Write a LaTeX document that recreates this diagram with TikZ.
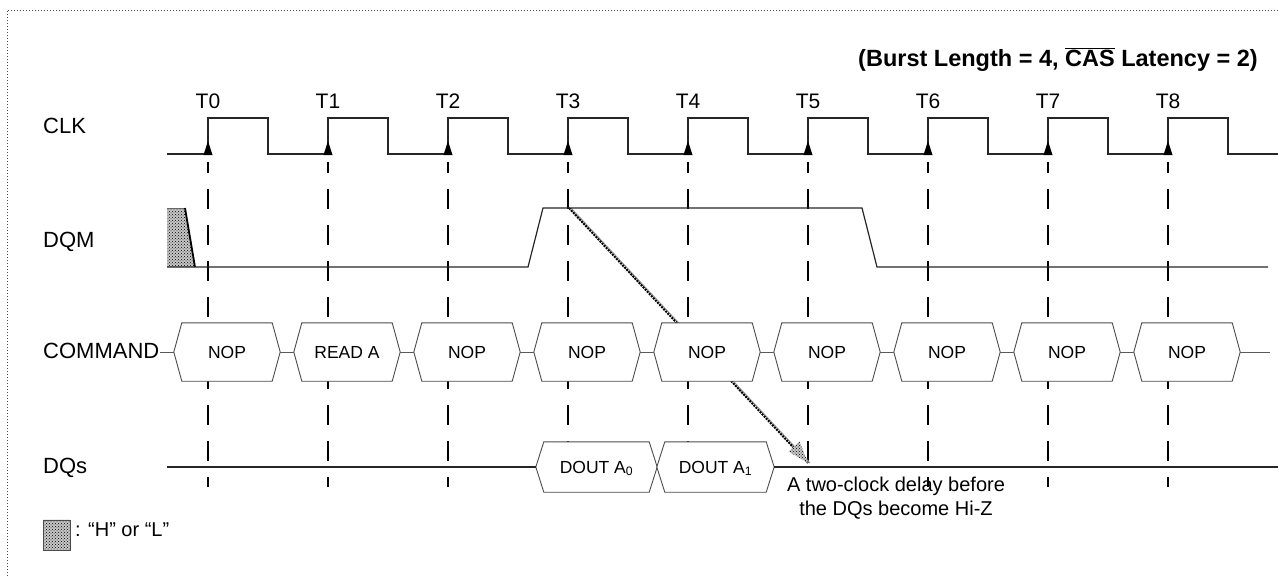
\documentclass[tikz,border=0pt]{standalone}
\usepackage{fontspec}
\setmainfont{Liberation Sans}
\usetikzlibrary{patterns,calc}
\pgfdeclarelayer{grid}
\pgfdeclarelayer{boxes}
\pgfsetlayers{grid,boxes,main}
\begin{document}
\begin{tikzpicture}[x=1pt,y=-1pt,
  sig/.style={line width=1.2pt,black!85},
  bus/.style={line width=0.9pt,black!65},
  hex/.style={draw=black!70,line width=0.9pt,fill=white},
  tick/.style={line width=1.5pt,dash pattern=on 20pt off 16pt,dash phase=9pt},
  lab/.style={font=\fontsize{22}{26}\selectfont,anchor=base west,inner sep=0pt},
  tlab/.style={font=\fontsize{21}{25}\selectfont,anchor=base,inner sep=0pt},
  cmdbox/.style={minimum width=106pt,minimum height=58pt,inner sep=0pt,font=\fontsize{17.5}{20}\selectfont},
  doutbox/.style={minimum height=50pt,inner sep=0pt,text height=12.5pt,text depth=0pt,font=\fontsize{17.5}{20}\selectfont},
  hatchbg/.style={fill=black!22},
  hatch/.style={pattern=crosshatch dots,pattern color=black}
]
\useasboundingbox (0,0) rectangle (1278,576);

% frame
\draw[dotted,line width=1pt,black!70] (7,576) -- (7,10) -- (1278,10);

% title
\node[font=\fontsize{23.5}{28}\selectfont\bfseries,anchor=base east,inner sep=0pt] (title) at (1258,66)
  {(Burst Length = 4, $\overline{\hbox{CAS}}$ Latency = 2)};

% signal labels
\node[lab] (clk) at (43,133) {CLK};
\node[lab] (dqm) at (43,247) {DQM};
\node[lab] (command) at (43,358) {COMMAND};
\node[lab] (dqs) at (43,473) {DQs};

% clock
\draw[sig] (167,154) \foreach \i in {0,...,8}{ -- ({208+120*\i},154) -- ({208+120*\i},118) -- ({268+120*\i},118) -- ({268+120*\i},154)} -- (1278,154);
\foreach \i in {0,...,8}{
  \fill ({208+120*\i},141) -- ++(-4.5,14) -- ++(9,0) -- cycle;
  \node[tlab] (T\i) at ({208+120*\i},108) {T\i};
}

% dashed clock-edge guides
\begin{pgfonlayer}{grid}
\foreach \i in {0,...,8}{
  \pgfmathsetmacro\ye{\i==5 ? 467 : 487}
  \draw[tick] ({208+120*\i},162) -- ({208+120*\i},\ye);
}
\end{pgfonlayer}

% DQM
\fill[hatchbg] (167,208) -- (185,208) -- (195,267) -- (167,267) -- cycle;
\fill[hatch] (167,208) -- (185,208) -- (195,267) -- (167,267) -- cycle;
\draw[black!60,line width=1pt] (167,208) -- (185,208);
\draw[line width=1.8pt] (185,208) -- (195,267);
\draw[sig] (167,267) -- (528,267) -- (543,208) -- (862,208) -- (877,267) -- (1268,267);

% delay arrow (hidden behind the command box)
\coordinate (dqmhi) at (569,208);
\coordinate (hiz) at (808,463);
\begin{pgfonlayer}{grid}
\draw[black!40,line width=1pt] ([xshift=2pt]dqmhi) -- ([xshift=2pt]hiz);
\draw[black,line width=2pt,densely dotted] (dqmhi) -- (hiz);
\fill[hatchbg] (hiz) -- (788.5,451.5) -- (799.5,441.3) -- cycle;
\fill[hatch] (hiz) -- (788.5,451.5) -- (799.5,441.3) -- cycle;
\end{pgfonlayer}

% COMMAND bus
\foreach \i/\t in {0/NOP,1/READ A,2/NOP,3/NOP,4/NOP,5/NOP,6/NOP,7/NOP,8/NOP}{
  \node[cmdbox] (cmd\i) at ({227+120*\i},352) {\t};
  \begin{pgfonlayer}{boxes}
  \draw[hex] (cmd\i.west) -- ([xshift=8pt]cmd\i.north west) -- ([xshift=-8pt]cmd\i.north east)
    -- (cmd\i.east) -- ([xshift=-8pt]cmd\i.south east) -- ([xshift=8pt]cmd\i.south west) -- cycle;
  \end{pgfonlayer}
}
\foreach \i in {0,...,7}{
  \pgfmathtruncatemacro\j{\i+1}
  \draw[bus] (cmd\i.east) -- (cmd\j.west);
}
\draw[bus] (cmd0.west) -- (cmd0.west -| command.east);
\coordinate (cmdend) at (1270,352);
\draw[bus] (cmd8.east) -- (cmdend);

% DQs
\node[doutbox,minimum width=121pt] (d0) at (596.5,467) {DOUT A\textsubscript{0}};
\node[doutbox,minimum width=117pt] (d1) at (715.5,467) {DOUT A\textsubscript{1}};
\begin{pgfonlayer}{boxes}
\foreach \n in {d0,d1}{
  \draw[hex] (\n.west) -- ([xshift=8pt]\n.north west) -- ([xshift=-8pt]\n.north east)
    -- (\n.east) -- ([xshift=-8pt]\n.south east) -- ([xshift=8pt]\n.south west) -- cycle;
}
\end{pgfonlayer}
\coordinate (dqstart) at (167,467);
\coordinate (dqend) at (1278,467);
\draw[sig] (dqstart) -- (d0.west);
\draw[sig] (d1.east) -- (dqend);

% annotation
\node[font=\fontsize{20}{23.5}\selectfont,align=center,anchor=north,inner sep=0pt] (note) at (896,477)
  {A two-clock delay before\\the DQs become Hi-Z};

% legend
\node[draw=black!70,hatchbg,minimum width=27pt,minimum height=30pt,inner sep=0pt] (legbox) at (56.5,535) {};
\fill[hatch] (legbox.south west) rectangle (legbox.north east);
\draw[black!70] (legbox.south west) rectangle (legbox.north east);
\node[font=\fontsize{20}{24}\selectfont,anchor=base west,inner sep=0pt] (legtxt) at (75,536) {: “H” or “L”};
\end{tikzpicture}
\end{document}
